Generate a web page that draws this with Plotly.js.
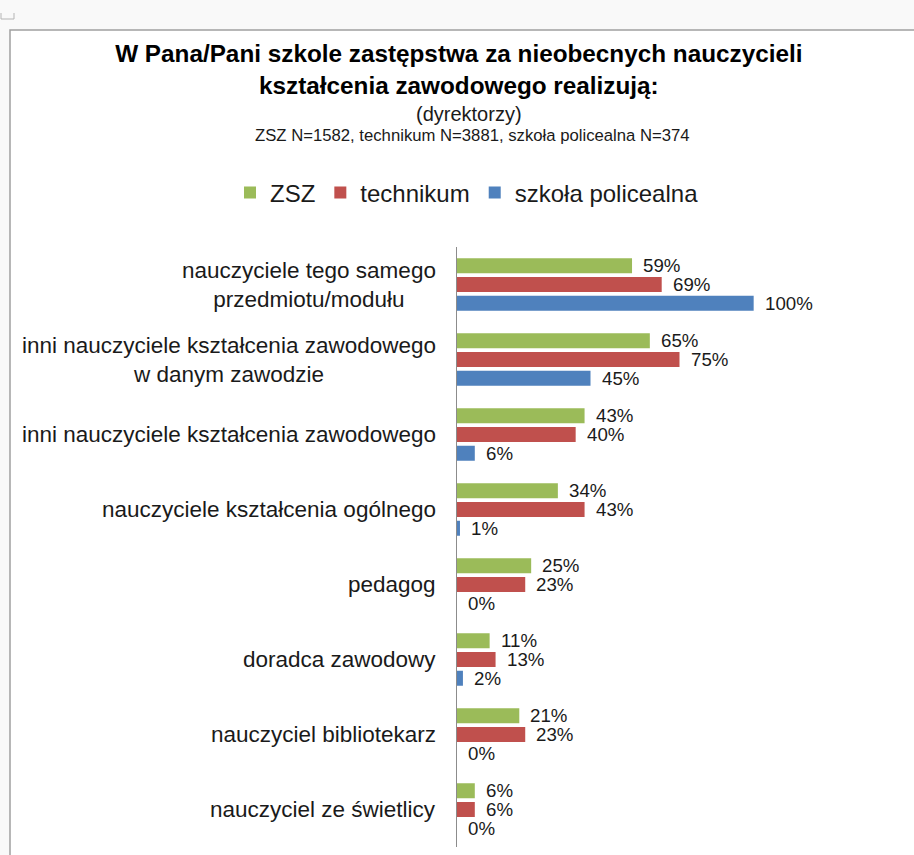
<!DOCTYPE html>
<html>
<head>
<meta charset="utf-8">
<script src="https://cdn.plot.ly/plotly-3.0.1.min.js"></script>
<style>html,body{margin:0;padding:0;background:#fff;}#chart{width:914px;height:855px;}</style>
</head>
<body>
<div id="chart"></div>
<script>
// ---- data ----
const categories = [
  "nauczyciele tego samego<br>przedmiotu/modułu",
  "inni nauczyciele kształcenia zawodowego<br>w danym zawodzie",
  "inni nauczyciele kształcenia zawodowego",
  "nauczyciele kształcenia ogólnego",
  "pedagog",
  "doradca zawodowy",
  "nauczyciel bibliotekarz",
  "nauczyciel ze świetlicy"
];
const seriesNames = ["ZSZ", "technikum", "szkoła policealna"];
const zszValues = [59, 65, 43, 34, 25, 11, 21, 6];
const technikumValues = [69, 75, 40, 43, 23, 13, 23, 6];
const policealnaValues = [100, 45, 6, 1, 0, 2, 0, 0];
const seriesColors = ["#9BBB59", "#C0504D", "#4F81BD"];
const titleText = "W Pana/Pani szkole zastępstwa za nieobecnych nauczycieli<br>kształcenia zawodowego realizują:";
const subtitleText = "(dyrektorzy)";
const sampleText = "ZSZ N=1582, technikum N=3881, szkoła policealna N=374";

const allValues = [zszValues, technikumValues, policealnaValues];
const FONT = "Liberation Sans, Arial, sans-serif";

const traces = allValues.map((vals, i) => ({
  type: "bar",
  orientation: "h",
  name: seriesNames[i],
  x: vals,
  y: categories,
  marker: {color: seriesColors[i]},
  hoverinfo: "x+name"
}));

const px = v => (v - 457) / 445;
const py = v => (847 - v) / 600;

const bargap = 0.25;
const slot = (1 - bargap) / 3;
const annotations = [];
// category labels
categories.forEach((c, idx) => {
  annotations.push({
    text: c, x: 0, xref: "x", y: idx, yref: "y",
    xanchor: "right", yanchor: "middle", xshift: -19, align: "center",
    showarrow: false, font: {family: FONT, size: 22.5, color: "#1a1a1a"}
  });
});
// data labels
allValues.forEach((vals, i) => {
  vals.forEach((v, idx) => {
    annotations.push({
      text: v + "%", x: v, xref: "x", y: idx + (i - 1) * slot, yref: "y",
      xanchor: "left", yanchor: "middle", xshift: 10, showarrow: false, borderpad: 0,
      font: {family: FONT, size: 18.7, color: "#1a1a1a"}
    });
  });
});
// subtitles
annotations.push({
  text: subtitleText, xref: "paper", yref: "paper",
  x: px(469), y: py(113.5), xanchor: "center", yanchor: "middle", borderpad: 0,
  showarrow: false, font: {family: FONT, size: 20, color: "#1a1a1a"}
});
annotations.push({
  text: sampleText, xref: "paper", yref: "paper",
  x: px(472), y: py(136), xanchor: "center", yanchor: "middle", borderpad: 0,
  showarrow: false, font: {family: FONT, size: 16.7, color: "#1a1a1a"}
});

const layout = {
  width: 914, height: 855, autosize: false,
  margin: {l: 457, r: 12, t: 247, b: 8, pad: 0},
  paper_bgcolor: "#f9f9f9",
  plot_bgcolor: "rgba(0,0,0,0)",
  font: {family: FONT, color: "#1a1a1a"},
  title: {
    text: titleText, x: 0.502, xref: "container", xanchor: "center",
    y: 1 - 62 / 855, yref: "container", yanchor: "top",
    font: {family: FONT, size: 24.3, color: "#000", weight: "bold"}
  },
  barmode: "group", bargap: bargap, bargroupgap: 0.2,
  xaxis: {range: [0, 150], showgrid: false, zeroline: false, showline: false,
          showticklabels: false, ticks: "", fixedrange: true},
  yaxis: {type: "category", categoryorder: "array", categoryarray: categories,
          autorange: "reversed", showgrid: false, zeroline: false,
          showline: true, linecolor: "#8c8c8c", linewidth: 1.3,
          showticklabels: false, ticks: "", fixedrange: true},
  showlegend: true,
  legend: {orientation: "h", xref: "paper", yref: "paper",
           x: px(230), xanchor: "left", y: py(193), yanchor: "middle",
           font: {family: FONT, size: 24, color: "#1a1a1a"},
           bgcolor: "rgba(0,0,0,0)", traceorder: "normal"},
  annotations: annotations,
  shapes: [
    {type: "rect", xref: "paper", yref: "paper", layer: "below",
     x0: px(10), x1: px(930), y0: py(870), y1: py(30),
     line: {color: "#a0a0a0", width: 1.5}, fillcolor: "#ffffff"},
    {type: "path", xref: "paper", yref: "paper", layer: "above",
     path: "M " + px(1) + "," + py(13) + " L " + px(1) + "," + py(19) +
           " L " + px(14) + "," + py(19) + " L " + px(14) + "," + py(13),
     line: {color: "#b5b5b5", width: 1}}
  ]
};

Plotly.newPlot("chart", traces, layout, {displayModeBar: false, staticPlot: true});
</script>
</body>
</html>
